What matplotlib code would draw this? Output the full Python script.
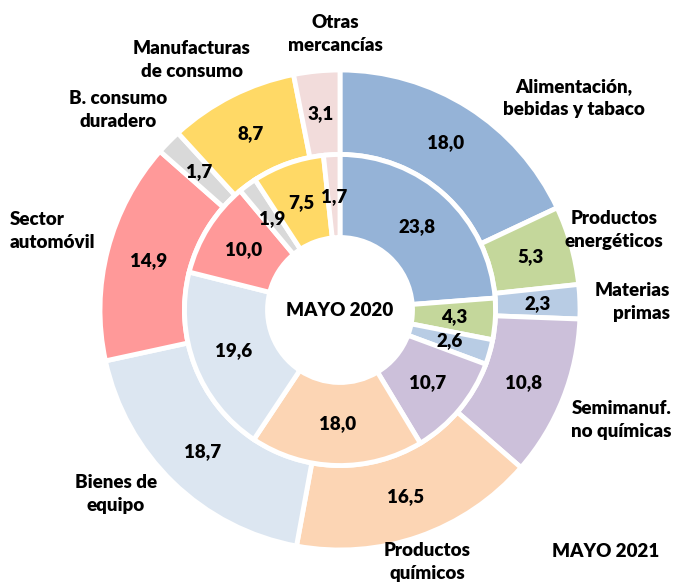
import matplotlib
matplotlib.use("Agg")
import numpy as np
import matplotlib.pyplot as plt

# datos (% del total), empezando arriba y en sentido horario
categorias = ["Alimentación,\nbebidas y tabaco", "Productos\nenergéticos", "Materias\nprimas",
              "Semimanuf.\nno químicas", "Productos\nquímicos", "Bienes de\nequipo",
              "Sector\nautomóvil", "B. consumo\nduradero", "Manufacturas\nde consumo",
              "Otras\nmercancías"]
mayo_2021 = [18.0, 5.3, 2.3, 10.8, 16.5, 18.7, 14.9, 1.7, 8.7, 3.1]
mayo_2020 = [23.8, 4.3, 2.6, 10.7, 18.0, 19.6, 10.0, 1.9, 7.5, 1.7]

colores = ["#95B3D7", "#C4D79B", "#B8CCE4", "#CCC0DA", "#FCD5B4",
           "#DCE6F1", "#FF9999", "#D9D9D9", "#FFD966", "#F2DCDB"]

# posicion de las etiquetas de categoria (coords. de datos) y alineacion
pos_etiquetas = [(0.975, 0.883, "center"), (1.142, 0.333, "center"), (1.375, 0.033, "right"),
                 (1.383, -0.458, "right"), (0.3625, -1.05, "center"), (-0.933, -0.767, "center"),
                 (-1.375, 0.329, "left"), (-0.925, 0.833, "center"), (-0.617, 1.042, "center"),
                 (-0.021, 1.15, "center")]

plt.rcParams['font.family'] = ['Lato', 'DejaVu Sans']

fig = plt.figure(figsize=(6.78, 5.88), dpi=100)
ax = fig.add_axes([100 / 678, 38 / 588, 480 / 678, 480 / 588])

FS = 13.5
PESO = "heavy"

def fmt(v):
    return f"{v:.1f}".replace(".", ",")

r_ext, r_med, r_hueco = 1.0, 0.648, 0.302
kw = dict(startangle=90, counterclock=False, colors=colores,
          wedgeprops=dict(edgecolor="white", linewidth=3.5))

w_out, _ = ax.pie(mayo_2021, radius=r_ext, **kw)
for w in w_out:
    w.set_width(r_ext - r_med)
w_in, _ = ax.pie(mayo_2020, radius=r_med, **kw)
for w in w_in:
    w.set_width(r_med - r_hueco)


def etiquetar(valores, radio):
    acum = np.cumsum([0] + valores[:-1])
    total = sum(valores)
    for v, a in zip(valores, acum):
        ang = np.deg2rad(90 - (a + v / 2) / total * 360)
        ax.text(radio * np.cos(ang), radio * np.sin(ang), fmt(v),
                ha="center", va="center", fontsize=FS, fontweight=PESO)


etiquetar(mayo_2021, (r_ext + r_med) / 2)
etiquetar(mayo_2020, (r_med + r_hueco) / 2)

for cat, (x, y, al) in zip(categorias, pos_etiquetas):
    ax.text(x, y, cat, ha=al, va="center", multialignment=al, fontsize=FS,
            fontweight=PESO, linespacing=1.45)

ax.text(0, 0, "MAYO 2020", ha="center", va="center", fontsize=FS, fontweight=PESO)
ax.text(1.108, -1.008, "MAYO 2021", ha="center", va="center", fontsize=FS, fontweight=PESO)

ax.set_xlim(-1, 1)
ax.set_ylim(-1, 1)
ax.set_aspect("auto")
ax.axis("off")

fig.savefig("out.png", dpi=100)
